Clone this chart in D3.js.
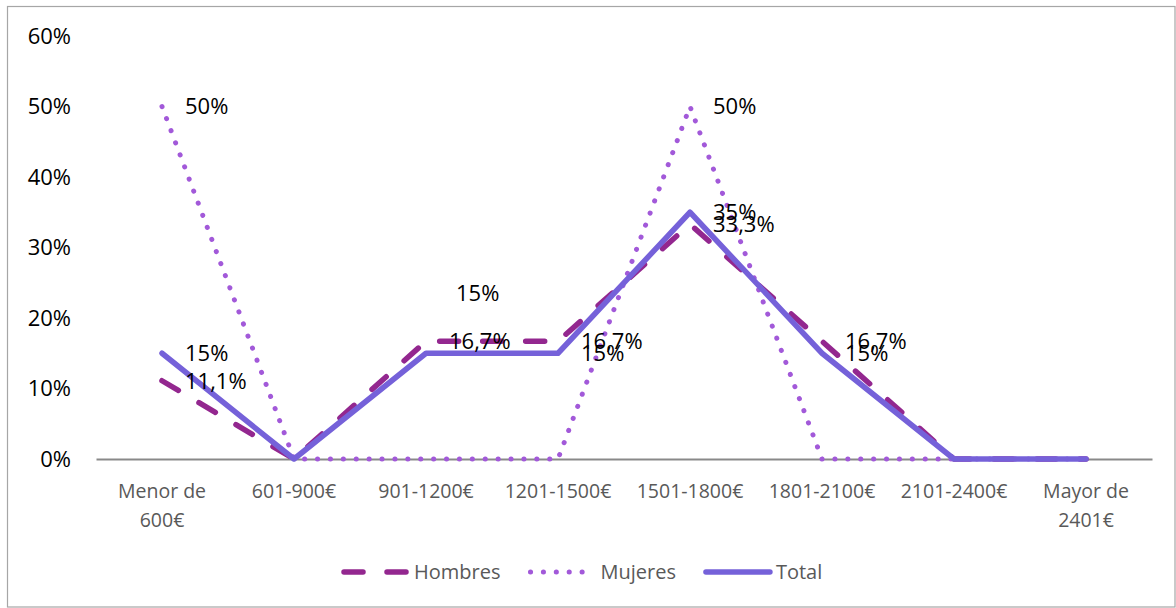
<!DOCTYPE html>
<html>
<head>
<meta charset="utf-8">
<script src="https://cdn.jsdelivr.net/npm/d3@7"></script>
<style>
  body { margin: 0; background: #fff; }
  text { font-family: "Open Sans", sans-serif; }
</style>
</head>
<body>
<div id="container"></div>
<script>
"use strict";

const width = 1176;
const height = 608;

const categories = [
  "Menor de 600€",
  "601-900€",
  "901-1200€",
  "1201-1500€",
  "1501-1800€",
  "1801-2100€",
  "2101-2400€",
  "Mayor de 2401€",
];

const hombres = [11.1, 0, 16.7, 16.7, 33.3, 16.7, 0, 0];
const mujeres = [50, 0, 0, 0, 50, 0, 0, 0];
const total = [15, 0, 15, 15, 35, 15, 0, 0];

const yTicks = [0, 10, 20, 30, 40, 50, 60];

const series = [
  { name: "Hombres", values: hombres, color: "#93278f", dash: "19,24", width: 5.5 },
  { name: "Mujeres", values: mujeres, color: "#a259d9", dash: "0.1,12.8", width: 5 },
  { name: "Total", values: total, color: "#7561d9", dash: null, width: 5.5 },
];

const esLocale = d3.formatLocale({ decimal: ",", thousands: ".", grouping: [3], currency: ["", "€"] });
const fmt = (v) => esLocale.format("~r")(v) + "%";

const xScale = d3.scaleBand().domain(categories).range([96, 1152]);
const yScale = d3.scaleLinear().domain([0, 60]).range([459, 36]);
const cx = (c) => xScale(c) + xScale.bandwidth() / 2;

const svg = d3
  .select("#container")
  .append("svg")
  .attr("width", width)
  .attr("height", height);

svg
  .append("rect")
  .attr("x", 7.5)
  .attr("y", 6.5)
  .attr("width", width - 8.5)
  .attr("height", height - 7.5)
  .attr("fill", "#fff")
  .attr("stroke", "#a6a6a6")
  .attr("stroke-width", 1.2);

// y axis labels only
const yAxis = d3
  .axisLeft(yScale)
  .tickValues(yTicks)
  .tickSize(0)
  .tickPadding(0)
  .tickFormat((d) => d + "%");

const yg = svg.append("g").attr("transform", "translate(71, 0)").call(yAxis);
yg.select(".domain").remove();
yg.selectAll("text")
  .attr("fill", "#000")
  .style("font-size", "22px")
  .style("font-family", "'Open Sans', sans-serif");

// x axis
const xAxis = d3.axisBottom(xScale).tickSize(0).tickPadding(0).tickFormat("");
const xg = svg.append("g").attr("transform", "translate(0, 459)").call(xAxis);
xg.select(".domain").attr("stroke", "#898989").attr("stroke-width", 1.8);

xg.selectAll(".tick")
  .append("text")
  .attr("fill", "#595959")
  .attr("text-anchor", "middle")
  .style("font-size", "19.5px")
  .style("font-family", "'Open Sans', sans-serif")
  .each(function (d) {
    const parts = d.includes(" de ") ? [d.slice(0, d.indexOf(" de ") + 3), d.slice(d.indexOf(" de ") + 4)] : [d];
    const t = d3.select(this);
    parts.forEach((p, i) => {
      t.append("tspan").attr("x", 0).attr("y", 39 + i * 29).text(p);
    });
  });

// lines
const line = d3
  .line()
  .x((d, i) => cx(categories[i]))
  .y((d) => yScale(d));

series.forEach((s) => {
  svg
    .append("path")
    .datum(s.values)
    .attr("d", line)
    .attr("fill", "none")
    .attr("stroke", s.color)
    .attr("stroke-width", s.width)
    .attr("stroke-linecap", "round")
    .attr("stroke-linejoin", "round")
    .attr("stroke-dasharray", s.dash);
});

// data labels, right of the point; one Total label was dragged up in the original
const labelDy = { "Total-2": -60 };
const labelDx = { "Total-2": 30 };

series.forEach((s) => {
  svg
    .append("g")
    .selectAll("text")
    .data(s.values.map((v, i) => ({ v, i })).filter((d) => d.v > 0))
    .enter()
    .append("text")
    .attr("x", (d) => cx(categories[d.i]) + (labelDx[s.name + "-" + d.i] || 23))
    .attr("y", (d) => yScale(d.v) + (labelDy[s.name + "-" + d.i] || 0))
    .attr("dy", "0.36em")
    .attr("fill", "#000")
    .style("font-size", "22px")
    .text((d) => fmt(d.v));
});

// legend
const legend = svg.append("g").attr("transform", "translate(342, 572)");
let lx = 0;
series.forEach((s) => {
  legend
    .append("line")
    .attr("x1", lx + 2)
    .attr("x2", lx + 66)
    .attr("y1", 0)
    .attr("y2", 0)
    .attr("stroke", s.color)
    .attr("stroke-width", s.width)
    .attr("stroke-linecap", "round")
    .attr("stroke-dasharray", s.dash);
  const t = legend
    .append("text")
    .attr("x", lx + 72)
    .attr("y", 0)
    .attr("dy", "0.36em")
    .attr("fill", "#595959")
    .style("font-size", "20px")
    .text(s.name);
  lx += 72 + t.node().getComputedTextLength() + 28;
});
</script>
</body>
</html>
